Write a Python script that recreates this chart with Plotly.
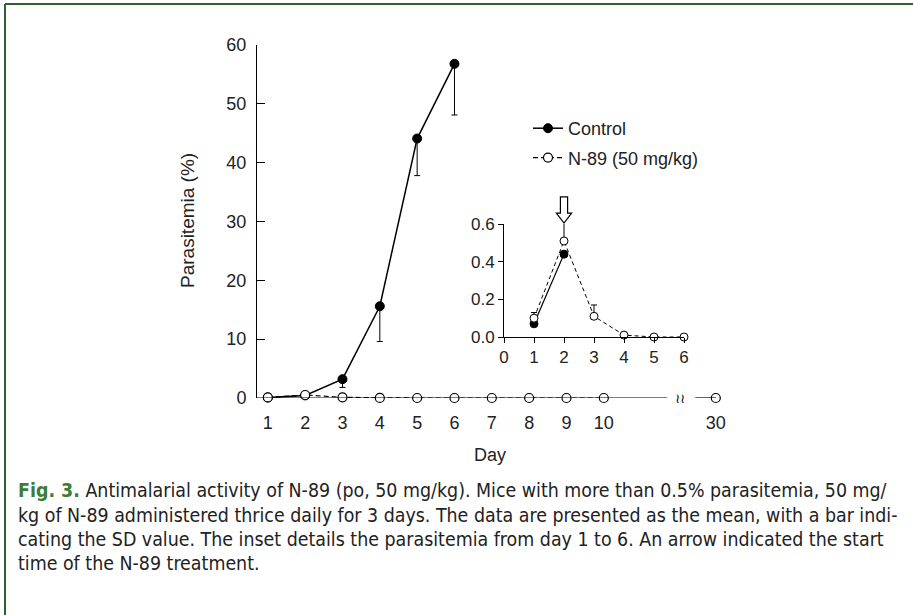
import plotly.graph_objects as go

# ---------------- data ----------------
control_days = [1, 2, 3, 4, 5, 6]
control_values = [0.07, 0.44, 3.2, 15.6, 44.1, 56.8]
control_sd = [0.02, 0.05, 1.4, 6.0, 6.3, 8.7]

n89_days = [1, 2, 3, 4, 5, 6, 7, 8, 9, 10, 30]
n89_values = [0.10, 0.51, 0.11, 0.01, 0.0, 0.0, 0.0, 0.0, 0.0, 0.0, 0.0]
n89_sd = [0.03, 0.10, 0.06, 0.0, 0.0, 0.0, 0.0, 0.0, 0.0, 0.0, 0.0]

main_y_ticks = [0, 10, 20, 30, 40, 50, 60]
inset_y_ticks = [0.0, 0.2, 0.4, 0.6]
inset_x_ticks = [0, 1, 2, 3, 4, 5, 6]
inset_max_day = 6
arrow_day = 2  # start of N-89 treatment

x_title = "Day"
y_title = "Parasitemia (%)"
fig_label = "Fig. 3."
caption_lines = [
    "Antimalarial activity of N-89 (po, 50 mg/kg). Mice with more than 0.5% parasitemia, 50 mg/",
    "kg of N-89 administered thrice daily for 3 days. The data are presented as the mean, with a bar indi-",
    "cating the SD value. The inset details the parasitemia from day 1 to 6. An arrow indicated the start",
    "time of the N-89 treatment.",
]

# ---------------- broken-axis scale ----------------
BREAK_AFTER = 10
BREAK_POS = 13.0  # axis position used for days after the break


def axis_pos(day):
    return day if day <= BREAK_AFTER else BREAK_POS


W, H = 913, 615
FONT = "Liberation Sans, Arial, Helvetica, sans-serif"
CAP_FONT = "DejaVu Sans Condensed, Liberation Sans Narrow, Arial Narrow, sans-serif"
TXT = "#222222"

fig = go.Figure()

# main control
fig.add_trace(go.Scatter(
    x=[axis_pos(d) for d in control_days], y=control_values,
    mode="lines+markers", name="Control", legendgroup="a",
    line=dict(color="black", width=1.5),
    marker=dict(symbol="circle", size=9, color="black", line=dict(color="black", width=1)),
    error_y=dict(type="data", symmetric=False, array=[0] * len(control_sd), arrayminus=control_sd,
                 color="black", thickness=1, width=3),
    cliponaxis=False, xaxis="x", yaxis="y",
))

# main N-89 (gap at the axis break)
nx, ny = [], []
for d, v in zip(n89_days, n89_values):
    if d > BREAK_AFTER and nx and nx[-1] is not None and nx[-1] <= BREAK_AFTER:
        nx.append(None)
        ny.append(None)
    nx.append(axis_pos(d))
    ny.append(v)
fig.add_trace(go.Scatter(
    x=nx, y=ny, mode="lines+markers", name="N-89 (50 mg/kg)", legendgroup="b",
    connectgaps=False,
    line=dict(color="black", width=1.2, dash="5px,3px"),
    marker=dict(symbol="circle", size=9, color="white", line=dict(color="black", width=1.2)),
    cliponaxis=False, xaxis="x", yaxis="y",
))

# inset control (only values within the inset range)
ymax_inset = inset_y_ticks[-1]
ci = [(d, v) for d, v in zip(control_days, control_values) if d <= inset_max_day and v <= ymax_inset]
fig.add_trace(go.Scatter(
    x=[c[0] for c in ci], y=[c[1] for c in ci], mode="lines+markers", showlegend=False,
    line=dict(color="black", width=1.2),
    marker=dict(symbol="circle", size=8, color="black", line=dict(color="black", width=1)),
    cliponaxis=False, xaxis="x2", yaxis="y2",
))

# inset N-89
ni = [(d, v, s) for d, v, s in zip(n89_days, n89_values, n89_sd) if d <= inset_max_day]
fig.add_trace(go.Scatter(
    x=[c[0] for c in ni], y=[c[1] for c in ni], mode="lines+markers", showlegend=False,
    line=dict(color="black", width=1, dash="4px,3px"),
    marker=dict(symbol="circle", size=8, color="white", line=dict(color="black", width=1)),
    error_y=dict(type="data", symmetric=False, array=[c[2] for c in ni], arrayminus=[0] * len(ni),
                 color="black", thickness=1, width=3),
    cliponaxis=False, xaxis="x2", yaxis="y2",
))

# ---------------- layout ----------------
px_x = lambda p: p / W
px_y = lambda p: 1 - p / H

main_x_range = [0.71, 13.3]
tick_days = n89_days

inset_xdom = [px_x(504), px_x(684)]
inset_ydom = [px_y(337), px_y(224)]
inset_xr = [inset_x_ticks[0], inset_x_ticks[-1]]
inset_yr = [inset_y_ticks[0], inset_y_ticks[-1]]

fig.update_layout(
    width=W, height=H,
    margin=dict(l=0, r=0, t=0, b=0, pad=0, autoexpand=False),
    paper_bgcolor="white", plot_bgcolor="white",
    font=dict(family=FONT, size=18, color=TXT),
    showlegend=True,
    legend=dict(x=px_x(528), y=px_y(110), xanchor="left", yanchor="top",
                bgcolor="rgba(0,0,0,0)", font=dict(size=18, family=FONT, color=TXT),
                traceorder="grouped", tracegroupgap=3, itemwidth=30),
    xaxis=dict(domain=[px_x(257), px_x(727)], range=main_x_range, showline=False,
               showgrid=False, zeroline=False, ticks="", automargin=False,
               tickvals=[axis_pos(d) for d in tick_days], ticktext=[str(d) for d in tick_days],
               tickfont=dict(size=18), ticklabelstandoff=12, anchor="y"),
    yaxis=dict(domain=[px_y(398), px_y(45)], range=[0, 60], showline=True, linecolor="black",
               linewidth=1, showgrid=False, zeroline=False, ticks="inside", ticklen=8,
               tickcolor="black", tickvals=main_y_ticks, tickfont=dict(size=18),
               ticklabelstandoff=6, automargin=False, anchor="x"),
    xaxis2=dict(domain=inset_xdom, range=inset_xr,
                showline=True, linecolor="black", linewidth=1, showgrid=False, zeroline=False,
                ticks="outside", ticklen=5, tickcolor="black", tickvals=inset_x_ticks,
                tickfont=dict(size=17), automargin=False, anchor="y2"),
    yaxis2=dict(domain=inset_ydom, range=inset_yr,
                showline=True, linecolor="black", linewidth=1, showgrid=False, zeroline=False,
                ticks="outside", ticklen=5, tickcolor="black", tickvals=inset_y_ticks,
                tickformat=".1f", tickfont=dict(size=17), automargin=False, anchor="x2"),
)

# broken x axis line
shapes = [
    dict(type="line", xref="x", yref="y", x0=main_x_range[0], x1=11.7, y0=0, y1=0,
         line=dict(color="black", width=1.2)),
    dict(type="line", xref="x", yref="y", x0=12.45, x1=BREAK_POS, y0=0, y1=0,
         line=dict(color="black", width=1.2)),
]


# hollow arrow above the inset at treatment start (inset scale -> paper coords, so it is not clipped)
def ix(v):
    return inset_xdom[0] + (v - inset_xr[0]) / (inset_xr[1] - inset_xr[0]) * (inset_xdom[1] - inset_xdom[0])


def iy(v):
    return inset_ydom[0] + (v - inset_yr[0]) / (inset_yr[1] - inset_yr[0]) * (inset_ydom[1] - inset_ydom[0])


hw_shaft, hw_head = 0.12, 0.255
y_tip, y_head, y_top = 0.605, 0.658, 0.744
a = arrow_day
pts = [(a - hw_shaft, y_top), (a + hw_shaft, y_top), (a + hw_shaft, y_head), (a + hw_head, y_head),
       (a, y_tip), (a - hw_head, y_head), (a - hw_shaft, y_head)]
path = "M " + " L ".join(f"{ix(px_)},{iy(py_)}" for px_, py_ in pts) + " Z"
shapes.append(dict(type="path", xref="paper", yref="paper", path=path, fillcolor="white",
                   line=dict(color="black", width=1.2), layer="above"))

# green frame (top and left edges)
frame = "#2e5f2e"
shapes.append(dict(type="line", xref="paper", yref="paper", x0=px_x(5), x1=1, y0=px_y(4), y1=px_y(4),
                   line=dict(color=frame, width=2)))
shapes.append(dict(type="line", xref="paper", yref="paper", x0=px_x(5), x1=px_x(5), y0=px_y(4), y1=0,
                   line=dict(color=frame, width=2)))
fig.update_layout(shapes=shapes)

annotations = [
    dict(x=12.05, y=0, xref="x", yref="y", text="≀≀", showarrow=False,
         font=dict(size=13, color="black", family="DejaVu Sans"), xanchor="center", yanchor="middle"),
    dict(x=px_x(187), y=px_y(221), xref="paper", yref="paper", text=y_title, textangle=-90,
         showarrow=False, xanchor="center", yanchor="middle", font=dict(size=19, family=FONT, color=TXT)),
    dict(x=px_x(490), y=px_y(455), xref="paper", yref="paper", text=x_title,
         showarrow=False, xanchor="center", yanchor="middle", font=dict(size=18, family=FONT, color=TXT)),
]
line_y = [490, 515, 539, 563]
for i, (ln, yy) in enumerate(zip(caption_lines, line_y)):
    txt = (f"<b><span style='color:#3a7d3a'>{fig_label}</span></b> " + ln) if i == 0 else ln
    annotations.append(dict(x=px_x(16), y=px_y(yy), xref="paper", yref="paper", xanchor="left",
                            yanchor="middle", align="left", showarrow=False, text=txt,
                            font=dict(family=CAP_FONT, size=19.4, color=TXT)))
fig.update_layout(annotations=annotations)

fig.write_html("out.html", config={"displayModeBar": False},
               post_script="document.body.style.margin='0px';document.body.style.overflow='hidden';")
